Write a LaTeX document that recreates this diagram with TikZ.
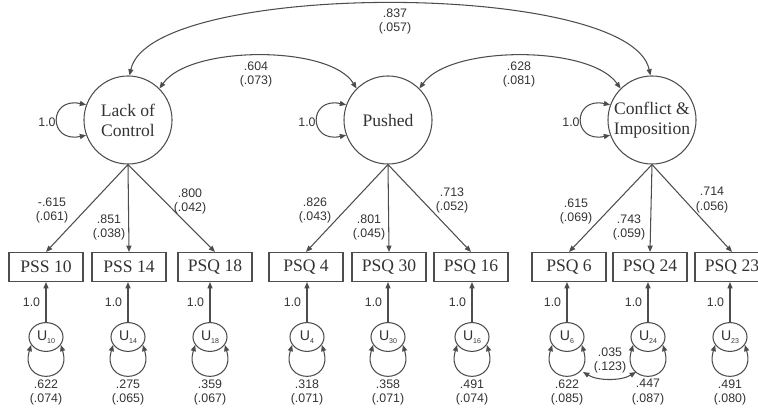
\documentclass[tikz,border=0pt]{standalone}
\usepackage{fontspec}
\setmainfont{Liberation Serif}
\newfontfamily\numfont{Liberation Sans}
\usepackage{tikz}
\usetikzlibrary{arrows.meta}
\usetikzlibrary{shapes.geometric}
\usetikzlibrary{calc}
\usetikzlibrary{positioning}

\definecolor{semline}{HTML}{4d4d4d}
\definecolor{semtext}{HTML}{333333}

\newcommand{\usub}[1]{\raisebox{-0.4ex}{\fontsize{5}{5}\selectfont #1}}

\tikzset{
  latent/.style={circle, draw=semline, line width=0.75pt, minimum size=2.2cm, inner sep=0pt, align=center, text=semtext, font=\fontsize{12.5}{14.2}\selectfont},
  indic/.style={rectangle, draw=semline, line width=0.75pt, minimum width=1.85cm, minimum height=0.725cm, inner sep=0pt, text=semtext, font=\fontsize{12.5}{14}\selectfont},
  errterm/.style={ellipse, draw=semline, line width=0.75pt, minimum width=0.85cm, minimum height=0.72cm, inner sep=0pt, text=semtext, font=\numfont\fontsize{10}{10}\selectfont},
  est/.style={align=center, text=semtext, inner sep=1pt, font=\numfont\fontsize{8.8}{10}\selectfont},
  arr/.style={draw=semline, line width=0.75pt, -{Triangle[length=4.5pt,width=3.6pt]}},
  dblarr/.style={draw=semline, line width=0.75pt, {Triangle[length=4.5pt,width=3.6pt]}-{Triangle[length=4.5pt,width=3.6pt]}},
}

\begin{document}
\begin{tikzpicture}[x=0.025cm, y=-0.025cm]
  \useasboundingbox (0,0) rectangle (758,412);

  % factors
  \node[latent] (lc) at (128,120) {Lack of\\Control};
  \node[latent] (pu) at (388,120) {Pushed};
  \node[latent] (cf) at (652,120) {Conflict \&\\Imposition};

  \foreach \lv in {lc, pu, cf}{
    \draw[dblarr] (\lv.160) .. controls +(-38,-8) and +(-38,8) .. (\lv.200);
    \node[est] (one\lv) at ($(\lv)+(-81,2)$) {1.0};
  }

  % factor covariances
  \draw[dblarr] (lc.45) .. controls (190,45) and (330,45) .. (pu.135);
  \draw[dblarr] (pu.45) .. controls (450,45) and (590,45) .. (cf.135);
  \draw[dblarr] (lc.88) .. controls (150,-20) and (630,-20) .. (cf.92);
  \node[est] (cov1) at (256,74) {.604\\(.073)};
  \node[est] (cov2) at (519,74) {.628\\(.081)};
  \node[est] (cov3) at (395,21) {.837\\(.057)};

  % items and their error terms
  \foreach \id/\lbl/\bx/\ux/\var/\se in {10/PSS 10/46/46/.622/.074, 14/PSS 14/129/128/.275/.065,
      18/PSQ 18/215/210/.359/.067, 4/PSQ 4/306/307/.318/.071, 30/PSQ 30/389/388/.358/.071,
      16/PSQ 16/471/472/.491/.074, 6/PSQ 6/569/567/.622/.085, 24/PSQ 24/650/648/.447/.087,
      23/PSQ 23/732/730/.491/.080}{
    \node[indic] (b\id) at (\bx,267) {\lbl};
    \node[errterm] (u\id) at (\ux,337) {U\usub{\id}};
    \draw[arr] (u\id) -- (u\id |- b\id.south);
    \node[est, left=3pt] (w\id) at ($(u\id.north)!0.5!(u\id.north |- b\id.south)$) {1.0};
    \draw[dblarr] (u\id.208) .. controls +(-12,40) and +(12,40) .. (u\id.332);
    \node[est] (v\id) at (\ux,392) {\var\\(\se)};
  }

  % loadings
  \draw[arr] (lc.south) -- (b10.north);
  \draw[arr] (lc.south) -- (b14.north);
  \draw[arr] (lc.south) -- (b18.north);
  \draw[arr] (pu.south) -- (b4.north);
  \draw[arr] (pu.south) -- (b30.north);
  \draw[arr] (pu.south) -- (b16.north);
  \draw[arr] (cf.south) -- (b6.north);
  \draw[arr] (cf.south) -- (b24.north);
  \draw[arr] (cf.south) -- (b23.north);

  \node[est] (ld10) at (52,210) {-.615\\(.061)};
  \node[est] (ld14) at (109,227) {.851\\(.038)};
  \node[est] (ld18) at (190,201) {.800\\(.042)};
  \node[est] (ld4) at (315,210) {.826\\(.043)};
  \node[est] (ld30) at (369,227) {.801\\(.045)};
  \node[est] (ld16) at (452,200) {.713\\(.052)};
  \node[est] (ld6) at (576,211) {.615\\(.069)};
  \node[est] (ld24) at (629,227) {.743\\(.059)};
  \node[est] (ld23) at (712,200) {.714\\(.056)};

  % correlated errors
  \coordinate (e6) at ($(u6)+(16,35)$);
  \coordinate (e24) at ($(u24)+(-12,35)$);
  \draw[dblarr] (e6) .. controls +(15,9) and +(-15,9) .. (e24);
  \node[est] (cov624) at (610,360) {.035\\(.123)};
\end{tikzpicture}
\end{document}
